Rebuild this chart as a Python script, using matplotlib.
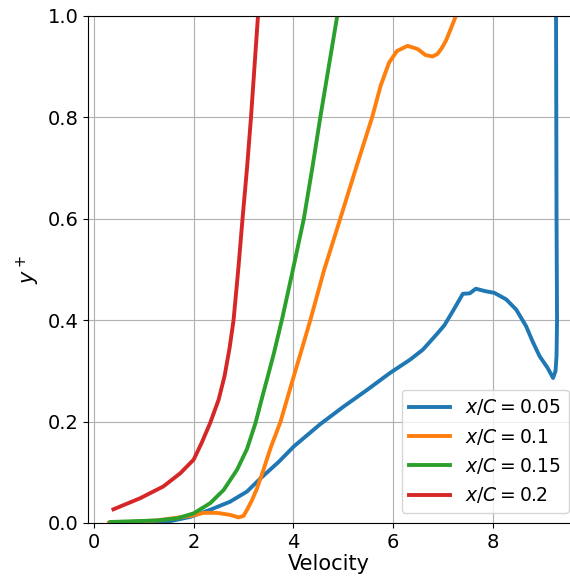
import matplotlib
matplotlib.use("Agg")
import matplotlib.pyplot as plt

# velocity profiles, y+ vs velocity
x05 = [0.30, 1.00, 1.50, 1.93, 2.33, 2.73, 3.07, 3.34, 3.70, 4.01, 4.54, 5.00, 5.50, 5.94,
       6.34, 6.60, 6.90, 7.03, 7.20, 7.40, 7.54, 7.66, 7.86, 8.03, 8.27, 8.47, 8.67, 8.80,
       8.94, 9.10, 9.21, 9.26, 9.28, 9.29, 9.28, 9.27]
y05 = [0.000, 0.000, 0.003, 0.012, 0.026, 0.042, 0.062, 0.088, 0.120, 0.151, 0.195, 0.229,
       0.264, 0.296, 0.322, 0.342, 0.375, 0.390, 0.418, 0.452, 0.453, 0.462, 0.457, 0.454,
       0.441, 0.421, 0.388, 0.358, 0.329, 0.306, 0.286, 0.300, 0.330, 0.400, 0.600, 1.000]

x10 = [0.30, 1.26, 1.93, 2.20, 2.47, 2.73, 2.90, 3.00, 3.07, 3.17, 3.27, 3.40, 3.55, 3.74,
       3.87, 4.01, 4.17, 4.34, 4.62, 4.94, 5.25, 5.58, 5.75, 5.92, 6.08, 6.29, 6.49, 6.65,
       6.79, 6.89, 6.98, 7.06, 7.16, 7.26]
y10 = [0.000, 0.005, 0.014, 0.020, 0.020, 0.016, 0.011, 0.014, 0.026, 0.045, 0.068, 0.105,
       0.150, 0.199, 0.243, 0.290, 0.343, 0.400, 0.500, 0.600, 0.698, 0.800, 0.862, 0.908,
       0.931, 0.941, 0.935, 0.923, 0.920, 0.925, 0.937, 0.951, 0.975, 1.000]

x15 = [0.33, 1.26, 1.66, 2.00, 2.33, 2.60, 2.87, 3.07, 3.24, 3.38, 3.50, 3.61, 3.78, 3.97,
       4.21, 4.38, 4.54, 4.71, 4.88]
y15 = [0.002, 0.005, 0.009, 0.019, 0.039, 0.065, 0.105, 0.146, 0.197, 0.250, 0.294, 0.335,
       0.405, 0.490, 0.600, 0.700, 0.800, 0.900, 1.000]

x20 = [0.39, 0.93, 1.39, 1.73, 2.00, 2.16, 2.33, 2.50, 2.62, 2.72, 2.80, 2.90, 2.98, 3.07,
       3.15, 3.22, 3.29]
y20 = [0.027, 0.049, 0.072, 0.098, 0.125, 0.158, 0.197, 0.243, 0.290, 0.345, 0.400, 0.506,
       0.600, 0.700, 0.800, 0.900, 1.000]

series = [(x05, y05, "$x/C = 0.05$", "#1f77b4"),
          (x10, y10, "$x/C = 0.1$", "#ff7f0e"),
          (x15, y15, "$x/C = 0.15$", "#2ca02c"),
          (x20, y20, "$x/C = 0.2$", "#d62728")]

fig = plt.figure(figsize=(5.7, 5.85), dpi=100)
ax = fig.add_axes([0.1544, 0.106, 0.8456, 0.8667])
for xs, ys, lab, col in series:
    ax.plot(xs, ys, color=col, lw=2.8, label=lab, solid_joinstyle="round")

ax.set_xlim(-0.12, 9.55)
ax.set_ylim(0, 1)
ax.set_xticks([0, 2, 4, 6, 8])
ax.set_yticks([0.0, 0.2, 0.4, 0.6, 0.8, 1.0])
ax.grid(True, color="#b0b0b0", lw=0.8)
ax.spines["right"].set_visible(False)
ax.tick_params(labelsize=14)
ax.set_xlabel("Velocity", fontsize=15, labelpad=2)
ax.set_ylabel("$y^+$", fontsize=15)
ax.legend(loc="lower right", bbox_to_anchor=(0.998, 0.02), borderaxespad=0,
          fontsize=13.5, handlelength=2.2)

fig.savefig("out.png")
